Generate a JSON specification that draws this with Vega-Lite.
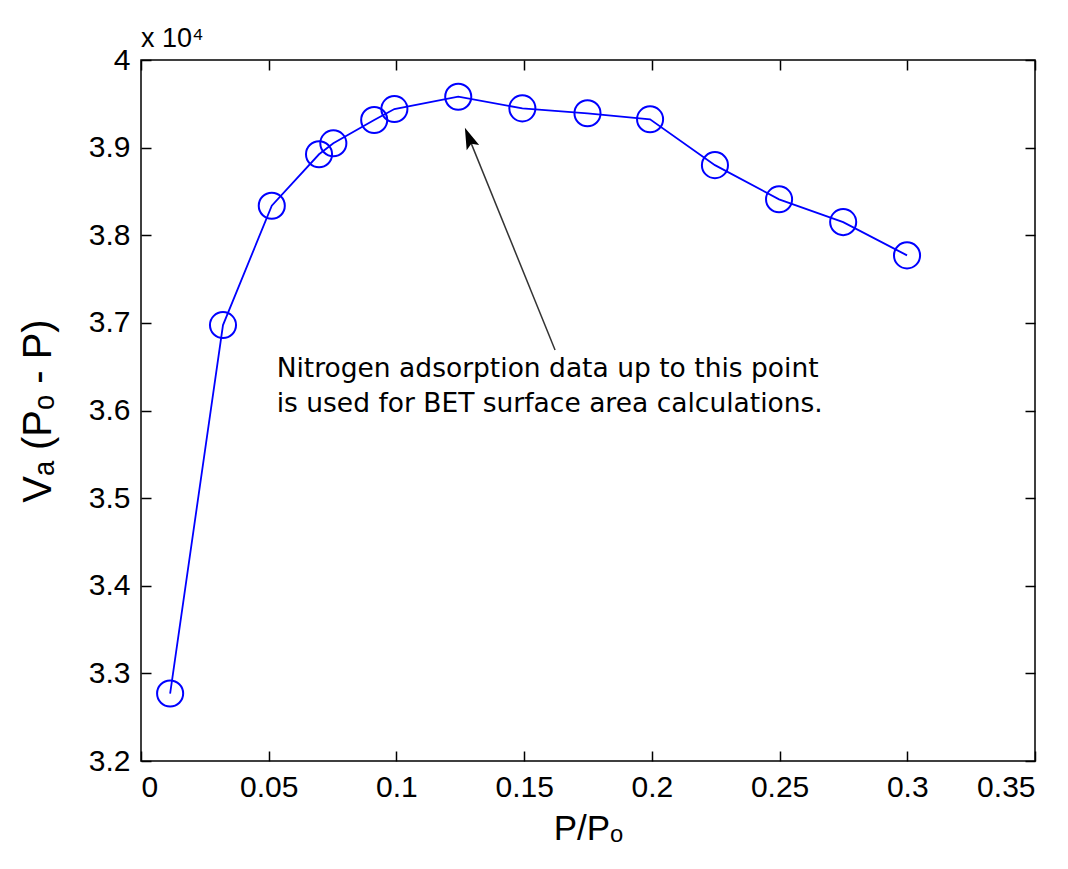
{
  "$schema": "https://vega.github.io/schema/vega-lite/v6.json",
  "width": 894,
  "height": 701,
  "autosize": {"type": "none"},
  "padding": {"left": 141, "top": 60, "right": 33, "bottom": 108},
  "background": "white",
  "config": {
    "view": {"stroke": "#000000", "strokeWidth": 1.5},
    "font": "Liberation Sans",
    "axis": {"grid": false, "domain": false, "tickColor": "#000000", "tickWidth": 1.5, "labelColor": "#000000", "titleColor": "#000000", "labelFont": "Liberation Sans", "titleFont": "Liberation Sans", "titleFontWeight": "normal"}
  },
  "title": {"text": "x 10⁴", "anchor": "start", "frame": "group", "orient": "top", "fontSize": 27, "fontWeight": "normal", "font": "Liberation Sans", "color": "#000000", "offset": -8},
  "datasets": {
    "pts": [
      {"p": 0.0114, "v": 32770},
      {"p": 0.0321, "v": 36975},
      {"p": 0.0512, "v": 38337},
      {"p": 0.0697, "v": 38924},
      {"p": 0.0753, "v": 39049},
      {"p": 0.0913, "v": 39315},
      {"p": 0.0992, "v": 39440},
      {"p": 0.1242, "v": 39581},
      {"p": 0.1493, "v": 39448},
      {"p": 0.1748, "v": 39392},
      {"p": 0.1993, "v": 39323},
      {"p": 0.2247, "v": 38800},
      {"p": 0.2498, "v": 38410},
      {"p": 0.2749, "v": 38150},
      {"p": 0.2999, "v": 37770}
    ],
    "arrow": [{"p": 0.1621, "v": 36690, "p2": 0.1286, "v2": 39097}],
    "head": [{"p": 0.1286, "v": 39097}],
    "note": [{"p": 0.0531, "v": 36385, "label": "Nitrogen adsorption data up to this point\nis used for BET surface area calculations."}]
  },
  "resolve": {"scale": {"x": "shared", "y": "shared"}, "axis": {"x": "independent", "y": "independent"}},
  "layer": [
    {
      "data": {"name": "pts"},
      "mark": {"type": "line", "color": "#0000FF", "strokeWidth": 1.8},
      "encoding": {
        "x": {"field": "p", "type": "quantitative", "scale": {"domain": [0, 0.35], "nice": false, "zero": false},
          "axis": {"orient": "bottom", "values": [0, 0.05, 0.1, 0.15, 0.2, 0.25, 0.3, 0.35], "labelExpr": "format(datum.value, '~g')", "tickSize": -10, "labelPadding": 21, "labelFontSize": 30, "title": "P/Pₒ", "titleFontSize": 35, "titlePadding": 9}},
        "y": {"field": "v", "type": "quantitative", "scale": {"domain": [32000, 40000], "nice": false, "zero": false},
          "axis": {"orient": "left", "values": [32000, 33000, 34000, 35000, 36000, 37000, 38000, 39000, 40000], "labelExpr": "format(datum.value / 10000, '~g')", "tickSize": -10, "labelPadding": 21, "labelFontSize": 30, "title": "Vₐ (Pₒ - P)", "titleFontSize": 40, "titlePadding": 30}}
      }
    },
    {
      "data": {"name": "pts"},
      "mark": {"type": "point", "shape": "circle", "filled": false, "color": "#0000FF", "strokeWidth": 2, "size": 680, "opacity": 1},
      "encoding": {
        "x": {"field": "p", "type": "quantitative", "axis": {"orient": "top", "values": [0, 0.05, 0.1, 0.15, 0.2, 0.25, 0.3, 0.35], "labels": false, "tickSize": -10, "title": null}},
        "y": {"field": "v", "type": "quantitative", "axis": {"orient": "right", "values": [32000, 33000, 34000, 35000, 36000, 37000, 38000, 39000, 40000], "labels": false, "tickSize": -10, "title": null}}
      }
    },
    {
      "data": {"name": "arrow"},
      "mark": {"type": "rule", "color": "#333333", "strokeWidth": 1.5},
      "encoding": {
        "x": {"field": "p", "type": "quantitative", "axis": null},
        "y": {"field": "v", "type": "quantitative", "axis": null},
        "x2": {"field": "p2"},
        "y2": {"field": "v2"}
      }
    },
    {
      "data": {"name": "head"},
      "mark": {"type": "point", "shape": "M0,-1L0.55,0.75L0,0.4L-0.55,0.75Z", "filled": true, "color": "#000000", "size": 600, "angle": 338, "opacity": 1},
      "encoding": {
        "x": {"field": "p", "type": "quantitative", "axis": null},
        "y": {"field": "v", "type": "quantitative", "axis": null}
      }
    },
    {
      "data": {"name": "note"},
      "mark": {"type": "text", "align": "left", "baseline": "alphabetic", "font": "DejaVu Sans", "fontSize": 26.5, "lineBreak": "\n", "lineHeight": 35, "color": "#000000"},
      "encoding": {
        "x": {"field": "p", "type": "quantitative", "axis": null},
        "y": {"field": "v", "type": "quantitative", "axis": null},
        "text": {"field": "label"}
      }
    }
  ]
}
